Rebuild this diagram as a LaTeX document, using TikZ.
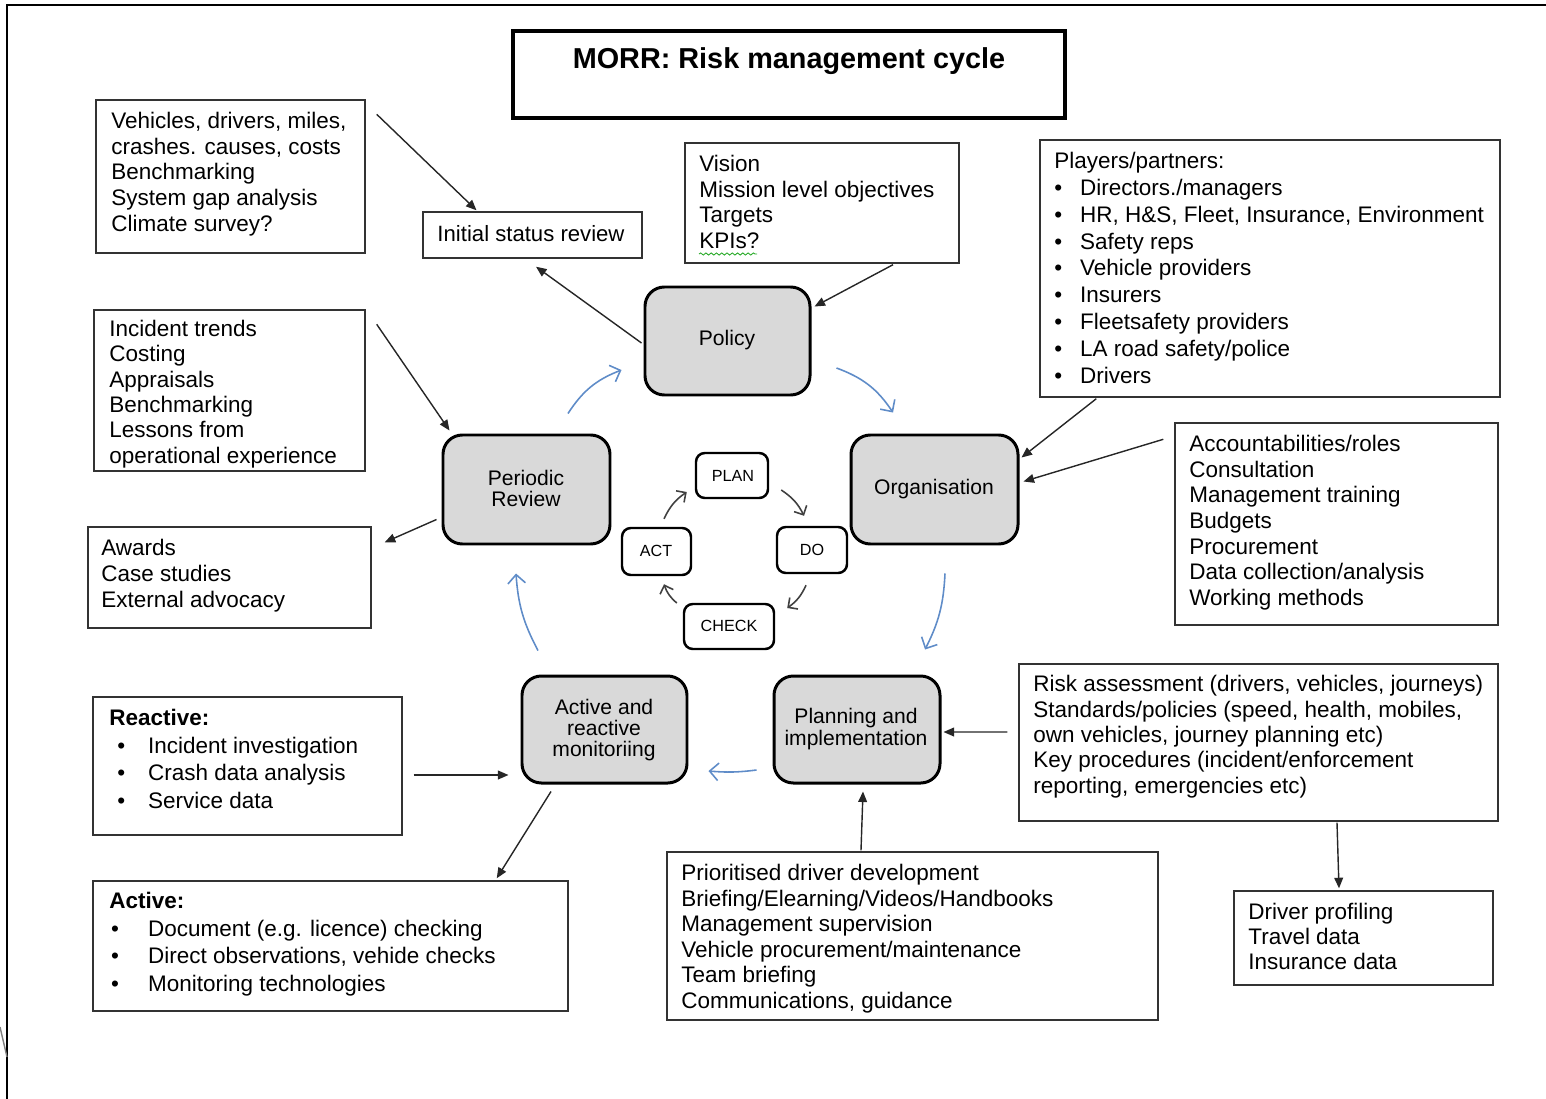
\documentclass[tikz,border=0pt]{standalone}
\usepackage{fontspec}
\setmainfont{Liberation Sans}
\usetikzlibrary{arrows.meta,fit,calc,decorations.pathmorphing}
\definecolor{cycblue}{RGB}{95,140,200}
\definecolor{spellgreen}{RGB}{40,170,40}
\begin{document}
\begin{tikzpicture}[x=0.02cm,y=-0.02cm,
 box/.style={draw=black!80, line width=0.8pt, inner sep=0pt},
 stage/.style={draw=black, line width=1.7pt, fill=black!15, rounded corners=11pt, inner sep=0pt},
 stagetxt/.style={align=center, inner sep=0pt, font=\fontsize{12}{12}\selectfont},
 pdca/.style={draw=black, line width=1.4pt, fill=white, rounded corners=5pt, inner sep=0pt},
 pdcatxt/.style={inner sep=0pt, font=\fontsize{9.2}{10}\selectfont},
 txt/.style={align=left, inner sep=0pt, anchor=north west, font=\fontsize{12.8}{14.6}\selectfont},
 arr/.style={draw=black!85, line width=0.8pt, -{Triangle[length=6pt,width=5pt]}},
 cyc/.style={draw=cycblue, line width=0.9pt, -{Straight Barb[length=5pt,width=10pt]}},
 pd/.style={draw=black!75, line width=0.9pt, -{Straight Barb[length=4pt,width=8pt]}}]
\useasboundingbox (0,0) rectangle (1546,1099);
% frame
\draw[line width=1.2pt] (7,1099) -- (7,5) -- (1546,5);
\draw[black!50, line width=0.8pt] (0,1027) -- (7,1057);
% title
\node[draw=black, line width=2pt, inner sep=0pt, fit={(513,31)(1065,118)}] (title) {};
\node[font=\fontsize{16.4}{16}\selectfont\bfseries, inner sep=0pt] (titletxt) at (789,61) {MORR: Risk management cycle};
% text boxes
\node[box, fit={(96,100)(365,253)}] (A) {};
\node[txt] at (111,112) {Vehicles, drivers, miles,\\crashes. causes, costs\\Benchmarking\\System gap analysis\\Climate survey?};
\node[box, fit={(423,212)(642,258)}] (isr) {};
\node[font=\fontsize{12.6}{14}\selectfont, inner sep=0pt] (isrtxt) at (531,234) {Initial status review};
\node[box, fit={(685,143)(959,263)}] (vis) {};
\node[txt] at (699,155) {Vision\\Mission level objectives\\Targets\\KPIs?};
\draw[spellgreen, line width=0.5pt, decorate, decoration={snake, amplitude=0.6pt, segment length=3pt}] (699,254) -- (757,254);
\node[box, fit={(1040,140)(1500,397)}] (pl) {};
\node[txt, font=\fontsize{12.8}{15.25}\selectfont] at (1054,152) {Players/partners:\\
\makebox[14.7pt][l]{\textbullet}Directors./managers\\
\makebox[14.7pt][l]{\textbullet}HR, H\&S, Fleet, Insurance, Environment\\
\makebox[14.7pt][l]{\textbullet}Safety reps\\
\makebox[14.7pt][l]{\textbullet}Vehicle providers\\
\makebox[14.7pt][l]{\textbullet}Insurers\\
\makebox[14.7pt][l]{\textbullet}Fleetsafety providers\\
\makebox[14.7pt][l]{\textbullet}LA road safety/police\\
\makebox[14.7pt][l]{\textbullet}Drivers};
\node[box, fit={(94,310)(365,471)}] (inc) {};
\node[txt, font=\fontsize{12.8}{14.4}\selectfont] at (109,320) {Incident trends\\Costing\\Appraisals\\Benchmarking\\Lessons from\\operational experience};
\node[box, fit={(1175,423)(1498,625)}] (acc) {};
\node[txt] at (1189,435) {Accountabilities/roles\\Consultation\\Management training\\Budgets\\Procurement\\Data collection/analysis\\Working methods};
\node[box, fit={(88,527)(371,628)}] (aw) {};
\node[txt, font=\fontsize{12.8}{14.7}\selectfont] at (101,539) {Awards\\Case studies\\External advocacy};
\node[box, fit={(1019,664)(1498,821)}] (risk) {};
\node[txt, font=\fontsize{12.8}{14.45}\selectfont] at (1033,675) {Risk assessment (drivers, vehicles, journeys)\\Standards/policies (speed, health, mobiles,\\own vehicles, journey planning etc)\\Key procedures (incident/enforcement\\reporting, emergencies etc)};
\node[box, fit={(1234,891)(1493,985)}] (drv) {};
\node[txt, font=\fontsize{12.8}{14.2}\selectfont] at (1248,903) {Driver profiling\\Travel data\\Insurance data};
\node[box, fit={(93,697)(402,835)}] (rea) {};
\node[txt, font=\fontsize{12.8}{15.7}\selectfont] at (109,709) {\textbf{Reactive:}\\
\hspace*{4.5pt}\makebox[17.6pt][l]{\textbullet}Incident investigation\\
\hspace*{4.5pt}\makebox[17.6pt][l]{\textbullet}Crash data analysis\\
\hspace*{4.5pt}\makebox[17.6pt][l]{\textbullet}Service data};
\node[box, fit={(93,881)(568,1011)}] (actb) {};
\node[txt, font=\fontsize{12.8}{15.7}\selectfont] at (109,892) {\textbf{Active:}\\
\hspace*{1pt}\makebox[21.1pt][l]{\textbullet}Document (e.g. licence) checking\\
\hspace*{1pt}\makebox[21.1pt][l]{\textbullet}Direct observations, vehide checks\\
\hspace*{1pt}\makebox[21.1pt][l]{\textbullet}Monitoring technologies};
\node[box, fit={(667,852)(1158,1020)}] (pri) {};
\node[txt, font=\fontsize{12.8}{14.5}\selectfont] at (681,864) {Prioritised driver development\\Briefing/Elearning/Videos/Handbooks\\Management supervision\\Vehicle procurement/maintenance\\Team briefing\\Communications, guidance};
% stages
\node[stage, fit={(645,287)(810,395)}] (pol) {};
\node[stagetxt] at (727,340) {Policy};
\node[stage, fit={(443,435)(610,544)}] (per) {};
\node[stagetxt] at (526,488) {Periodic\\Review};
\node[stage, fit={(851,435)(1018,544)}] (org) {};
\node[stagetxt] at (934,489) {Organisation};
\node[stage, fit={(522,676)(687,783)}] (arm) {};
\node[stagetxt] at (604,730) {Active and\\reactive\\monitoriing};
\node[stage, fit={(774,676)(940,783)}] (pln) {};
\node[stagetxt] at (856,729) {Planning and\\implementation};
% PDCA
\node[pdca, fit={(696,453)(768,498)}] (plan) {};
\node[pdcatxt] at (733,476) {PLAN};
\node[pdca, fit={(777,527)(847,573)}] (do) {};
\node[pdcatxt] at (812,550) {DO};
\node[pdca, fit={(684,604)(774,649)}] (check) {};
\node[pdcatxt] at (729,626) {CHECK};
\node[pdca, fit={(622,528)(691,575)}] (act) {};
\node[pdcatxt] at (656,551) {ACT};
% black connectors
\draw[arr] ([shift={(11,15)}]A.north east) -- ([shift={(-56,-1)}]isr.north);
\draw[arr] ([shift={(-2,2)}]pol.west) -- ([shift={(3.5,8)}]isr.south);
\draw[arr] ([shift={(71,1)}]vis.south) -- ([shift={(3,21)}]pol.north east);
\draw[arr] ([shift={(11,15)}]inc.north east) -- ([shift={(8,-3)}]per.north west);
\draw[arr] ([shift={(-5,30)}]per.west) -- ([shift={(13,16)}]aw.north east);
\draw[arr] ([shift={(57,1)}]pl.south west) -- ([shift={(2,24)}]org.north east);
\draw[arr] ([shift={(-11,17)}]acc.north west) -- ([shift={(4,-8)}]org.east);
\draw[arr] ([shift={(-11,-10.5)}]risk.west) -- ([shift={(2,2.5)}]pln.east);
\draw[arr] ([shift={(11,9)}]rea.east) -- ([shift={(-12,45.5)}]arm.west);
\draw[arr] ([shift={(-53.5,7)}]arm.south) -- ([shift={(-72,-2)}]actb.north east);
\draw[arr] ([shift={(-51.5,-1)}]pri.north) -- ([shift={(6,7)}]pln.south);
\draw[arr] ([shift={(78.5,1)}]risk.south) -- ([shift={(-24.5,-2)}]drv.north);
% blue cycle
\draw[cyc] ([shift={(41.5,-20)}]per.north) to[bend left=18] ([shift={(-22,29)}]pol.west);
\draw[cyc] ([shift={(25,27)}]pol.east) to[bend left=18] ([shift={(-41.5,-21)}]org.north);
\draw[cyc] ([shift={(10.5,28)}]org.south) to[bend left=12] ([shift={(68,-25)}]pln.north);
\draw[cyc] ([shift={(-16,40.5)}]pln.west) to[bend left=6] ([shift={(20,41.5)}]arm.east);
\draw[cyc] ([shift={(-66.5,-24)}]arm.north) to[bend left=12] ([shift={(-10.5,28)}]per.south);
% PDCA arrows
\draw[pd] ([shift={(7.5,-8)}]act.north) to[bend left=15] ([shift={(-8,16.5)}]plan.west);
\draw[pd] ([shift={(12,14.5)}]plan.east) to[bend left=15] ([shift={(-8,-10)}]do.north);
\draw[pd] ([shift={(-6,11)}]do.south) to[bend left=15] ([shift={(12,-18.5)}]check.east);
\draw[pd] ([shift={(-6,-23.5)}]check.west) to[bend left=15] ([shift={(7.5,8)}]act.south);
\end{tikzpicture}
\end{document}
